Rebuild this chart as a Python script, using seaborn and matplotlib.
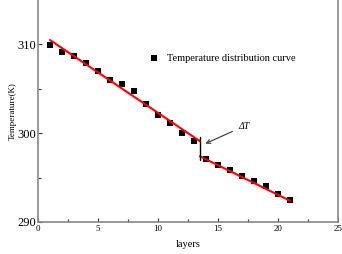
import pandas as pd
import matplotlib.pyplot as plt
import seaborn as sns

# layer index and measured temperature
layers = [1, 2, 3, 4, 5, 6, 7, 8, 9, 10, 11, 12, 13, 14, 15, 16, 17, 18, 19, 20, 21]
temps = [309.9, 309.2, 308.7, 307.9, 307.0, 306.0, 305.5, 304.7, 303.3, 302.1, 301.2,
         300.0, 299.1, 297.1, 296.4, 295.8, 295.2, 294.6, 294.1, 293.2, 292.5]

# fitted lines on both sides of the jump
fit1_x = [1, 13.5]
fit1_y = [310.5, 299.1]
fit2_x = [13.5, 21]
fit2_y = [297.4, 292.4]
jump_x = [13.5, 13.5]
jump_y = [299.6, 297.0]

df = pd.DataFrame({'layers': layers, 'Temperature(K)': temps})

sns.set_style('ticks')
plt.rcParams['font.family'] = ['Liberation Serif', 'DejaVu Serif']
plt.rcParams['text.color'] = 'black'
plt.rcParams['axes.labelcolor'] = 'black'
plt.rcParams['xtick.labelcolor'] = 'black'
plt.rcParams['ytick.labelcolor'] = 'black'

fig = plt.figure(figsize=(3.42, 2.54), dpi=100)
ax = fig.add_axes([0.111, 0.126, 0.877, 0.874])

sns.scatterplot(data=df, x='layers', y='Temperature(K)', marker='s', s=24,
                color='black', edgecolor='black', linewidth=0,
                label='Temperature distribution curve', ax=ax, zorder=2)
sns.lineplot(x=fit1_x, y=fit1_y, color='red', linewidth=1.5, ax=ax, zorder=3)
sns.lineplot(x=fit2_x, y=fit2_y, color='red', linewidth=1.5, ax=ax, zorder=3)
ax.plot(jump_x, jump_y, color='black', linewidth=1, zorder=4)

ax.annotate('ΔT', xy=(13.75, 298.7), xytext=(16.7, 300.5), fontsize=7, style='italic',
            arrowprops=dict(arrowstyle='->', color='#333333', lw=0.8))

ax.set_xlim(0, 25)
ax.set_ylim(290, 315)
ax.set_xticks([0, 5, 10, 15, 20, 25])
ax.set_xticks([2.5, 7.5, 12.5, 17.5, 22.5], minor=True)
ax.set_yticks([290, 300, 310])
ax.set_yticks([295, 305], minor=True)
ax.tick_params(direction='in', length=3, width=0.8, color='#333333')
ax.tick_params(which='minor', direction='in', length=2, width=0.8, color='#333333')
ax.tick_params(axis='x', labelsize=6.5, pad=2)
ax.tick_params(axis='y', labelsize=9, pad=1)
ax.set_xlabel('layers', fontsize=7.5, labelpad=5)
ax.set_ylabel('Temperature(K)', fontsize=6.5, labelpad=1)

for side in ['left', 'bottom', 'right']:
    ax.spines[side].set_color('#888888')
    ax.spines[side].set_linewidth(1.2)
ax.spines['top'].set_visible(False)

leg = ax.legend(loc='upper left', bbox_to_anchor=(0.32, 0.8), frameon=False,
                fontsize=7.5, handletextpad=0.3, markerscale=0.9)

fig.savefig('out.png', dpi=100)
